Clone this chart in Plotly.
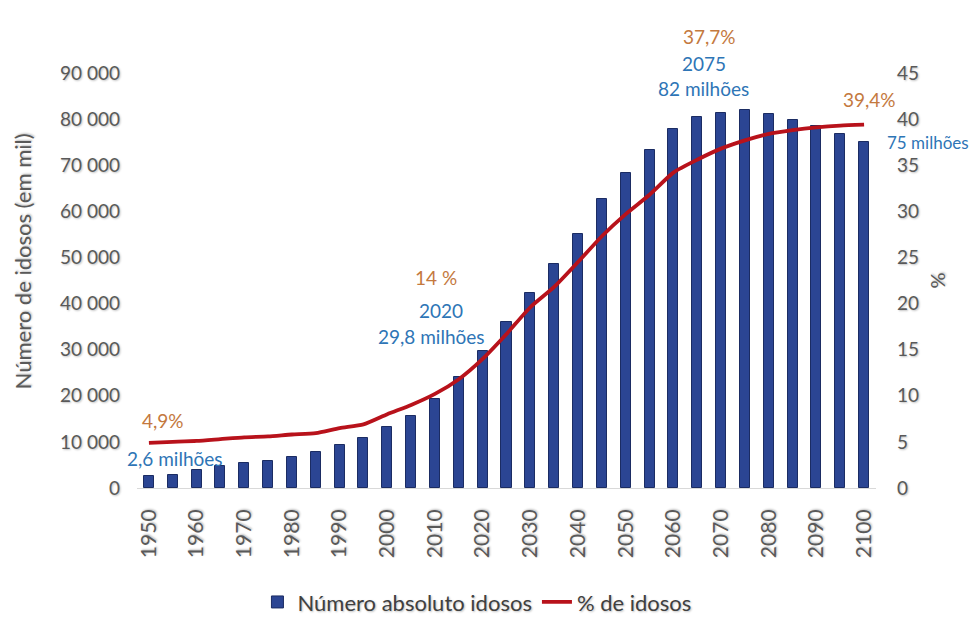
import plotly.graph_objects as go

# Brazil: elderly population projection, 1950-2100 (five-year steps)
years = list(range(1950, 2101, 5))
idosos_mil = [2600, 2900, 3800, 4700, 5500, 5900, 6700, 7800, 9300, 10800,
              13200, 15600, 19300, 24000, 29800, 36000, 42200, 48500, 55000, 62600,
              68400, 73400, 77900, 80500, 81400, 82000, 81200, 79900, 78400, 76800,
              75000]
pct_idosos = [4.9, 5.0, 5.1, 5.3, 5.5, 5.6, 5.8, 5.95, 6.5, 6.9,
              8.0, 9.0, 10.2, 11.8, 14.0, 16.7, 19.6, 21.8, 24.5, 27.3,
              29.7, 31.8, 34.2, 35.6, 36.8, 37.7, 38.4, 38.8, 39.1, 39.3,
              39.4]
xtick_years = list(range(1950, 2101, 10))

FONT = "Lato"
GRAY = "#595959"
ORANGE = "#C4793E"
BLUE = "#2E75B6"
BAR = "#2B4593"
LINE = "#B8121B"
SHADOW = "1px 1px 2px rgba(0,0,0,0.25)"


def fmt_pct(v):
    return f"{v:.1f}".replace(".", ",") + "%"


def fmt_mi(v):
    mi = v / 1000
    s = f"{mi:.1f}".replace(".", ",")
    if s.endswith(",0"):
        s = s[:-2]
    return f"{s} milhões"


fig = go.Figure()
fig.add_trace(go.Bar(
    x=years, y=idosos_mil, name="Número absoluto idosos",
    width=2.1, marker=dict(color=BAR, line=dict(color="#1B2C63", width=1)),
    yaxis="y",
))
fig.add_trace(go.Scatter(
    x=years, y=pct_idosos, name="% de idosos", mode="lines",
    line=dict(color=LINE, width=3.8, shape="spline", smoothing=0.6),
    yaxis="y2",
))

i1950 = years.index(1950)
i2020 = years.index(2020)
i2075 = years.index(2075)
i2100 = years.index(2100)

# (x, xref, y, yref, text, colour, size)
notes = [
    (1953.0, "x", 14700, "y", fmt_pct(pct_idosos[i1950]), ORANGE, 19),
    (1955.5, "x", 6300, "y", fmt_mi(idosos_mil[i1950]), BLUE, 19),
    (2010.2, "x", 45600, "y", f"{pct_idosos[i2020]:.0f} %", ORANGE, 19),
    (2011.2, "x", 38500, "y", str(years[i2020]), BLUE, 19),
    (2009.3, "x", 32900, "y", fmt_mi(idosos_mil[i2020]), BLUE, 19),
    (2067.6, "x", 1.089, "paper", fmt_pct(pct_idosos[i2075]), ORANGE, 19),
    (2066.4, "x", 1.022, "paper", str(years[i2075]), BLUE, 19),
    (2066.4, "x", 86600, "y", fmt_mi(idosos_mil[i2075]), BLUE, 19),
    (2101.2, "x", 84200, "y", fmt_pct(pct_idosos[i2100]), ORANGE, 19),
    (1.070, "paper", 75000, "y", fmt_mi(idosos_mil[i2100]), BLUE, 17),
]
for x, xr, y, yr, txt, col, sz in notes:
    fig.add_annotation(x=x, y=y, xref=xr, yref=yr, text=txt, showarrow=False,
                       xanchor="center", yanchor="middle", borderpad=0,
                       font=dict(family=FONT, size=sz, color=col))

# left axis title, set as rotated text
fig.add_annotation(x=-0.1556, y=0.546, xref="paper", yref="paper",
                   text="Número de idosos (em mil)", textangle=-90, showarrow=False,
                   xanchor="center", yanchor="middle",
                   font=dict(family=FONT, size=22, color=GRAY, shadow=SHADOW))

fig.update_layout(
    width=977, height=634,
    margin=dict(l=137, r=101, t=73, b=145),
    paper_bgcolor="white", plot_bgcolor="white",
    separators=", ",
    font=dict(family=FONT, color=GRAY),
    showlegend=True,
    legend=dict(orientation="h", x=0.46, xanchor="center", y=-0.272, yanchor="middle",
                font=dict(family=FONT, size=22, color="#404040", shadow=SHADOW),
                itemwidth=30, tracegroupgap=0),
    xaxis=dict(range=[1947.5, 2102.5], tickmode="array", tickvals=xtick_years,
               ticktext=[str(y) for y in xtick_years], tickangle=-90,
               showgrid=False, showline=True, linecolor="#D9D9D9", linewidth=1,
               ticks="", ticklabelstandoff=12,
               tickfont=dict(family=FONT, size=21, color=GRAY, shadow=SHADOW)),
    yaxis=dict(range=[0, 90000], dtick=10000, tickformat=",d", showgrid=False,
               zeroline=False, ticks="", ticklabelstandoff=16,
               tickfont=dict(family=FONT, size=19, color=GRAY, shadow=SHADOW)),
    yaxis2=dict(range=[0, 45], dtick=5, overlaying="y", side="right",
                showgrid=False, zeroline=False, ticks="", ticklabelstandoff=20,
                tickfont=dict(family=FONT, size=19, color=GRAY, shadow=SHADOW),
                title=dict(text="%", standoff=12,
                           font=dict(family=FONT, size=20, color=GRAY, shadow=SHADOW))),
    bargap=0,
)

fig.write_html("out.html")
